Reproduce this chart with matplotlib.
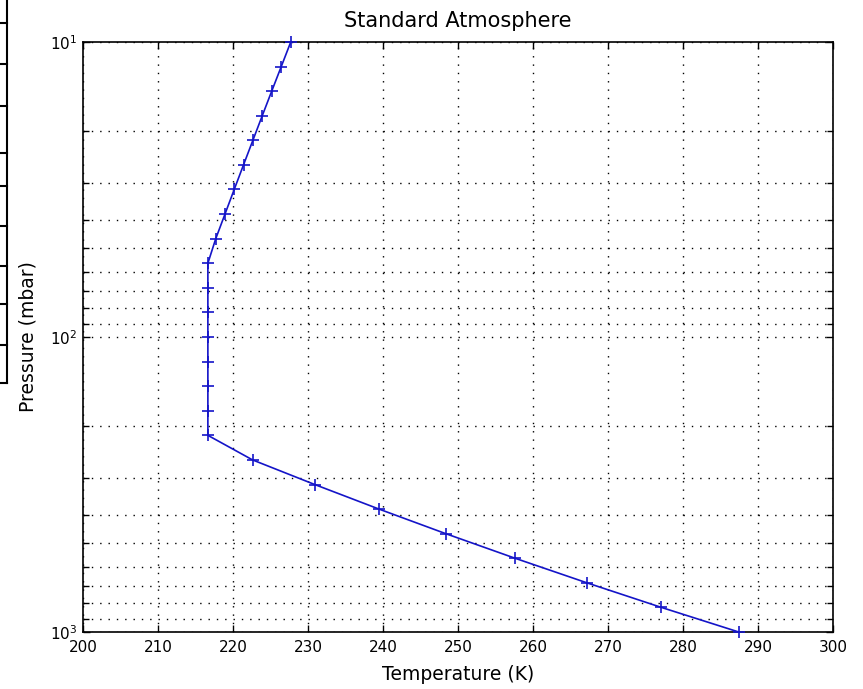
import numpy as np
import matplotlib
matplotlib.use("Agg")
import matplotlib.pyplot as plt
from matplotlib.lines import Line2D

# pressure levels (mbar) and standard-atmosphere temperature (K)
pressure = [1000.0, 825.40, 681.29, 562.34, 464.16, 383.12, 316.23, 261.02,
            215.44, 177.83, 146.78, 121.15, 100.0, 82.54, 68.13, 56.23,
            46.42, 38.31, 31.62, 26.10, 21.54, 17.78, 14.68, 12.12, 10.0]
temperature = [287.43, 277.12, 267.19, 257.61, 248.37, 239.47, 230.89, 222.61,
               216.65, 216.65, 216.65, 216.65, 216.65, 216.65, 216.65, 216.65,
               217.70, 218.93, 220.16, 221.40, 222.65, 223.90, 225.16, 226.43, 227.70]

x_ticks = [200, 210, 220, 230, 240, 250, 260, 270, 280, 290, 300]
y_ticks = [10, 100, 1000]
y_tick_labels = [r"$10^{1}$", r"$10^{2}$", r"$10^{3}$"]

W, H = 863, 689
fig = plt.figure(figsize=(W / 100, H / 100), dpi=100)
ax = fig.add_axes([83 / W, 1 - 632 / H, 750 / W, 590 / H])

ax.plot(temperature, pressure, color="#1414c8", lw=1.2, marker="+",
        markersize=9, markeredgewidth=1.2, clip_on=False, zorder=3)

ax.set_yscale("log")
ax.set_xlim(200, 300)
ax.set_ylim(1000, 10)
ax.set_xticks(x_ticks)
ax.set_xticklabels([str(t) for t in x_ticks])
ax.set_yticks(y_ticks)
ax.set_yticklabels(y_tick_labels)

dots = (0, (1, 5))
ax.grid(True, which="major", color="black", linestyle=dots, linewidth=1.0)
ax.grid(True, which="minor", axis="y", color="black", linestyle=dots, linewidth=1.0)

ax.tick_params(which="both", direction="in", top=True, right=True,
               length=5, width=1.0, labelsize=11, pad=4, colors="black")
ax.tick_params(axis="x", pad=6)
ax.tick_params(which="minor", length=4)
for s in ax.spines.values():
    s.set_linewidth(1.2)

ax.set_title("Standard Atmosphere", fontsize=15, pad=11)
ax.set_xlabel("Temperature (K)", fontsize=13.5, labelpad=7)
ax.set_ylabel("Pressure (mbar)", fontsize=13.5, labelpad=9)

# partial box cut off at the left edge of the source image
edge_rows = [0, 23, 64, 106, 153, 186, 226, 266, 304, 345, 383]
for yy in edge_rows[1:]:
    fig.add_artist(Line2D([0, 7 / W], [1 - yy / H, 1 - yy / H], color="black", lw=1.5))
fig.add_artist(Line2D([7 / W, 7 / W], [1 - edge_rows[0] / H, 1 - edge_rows[-1] / H],
                      color="black", lw=1.5))

fig.savefig("out.png", dpi=100)
